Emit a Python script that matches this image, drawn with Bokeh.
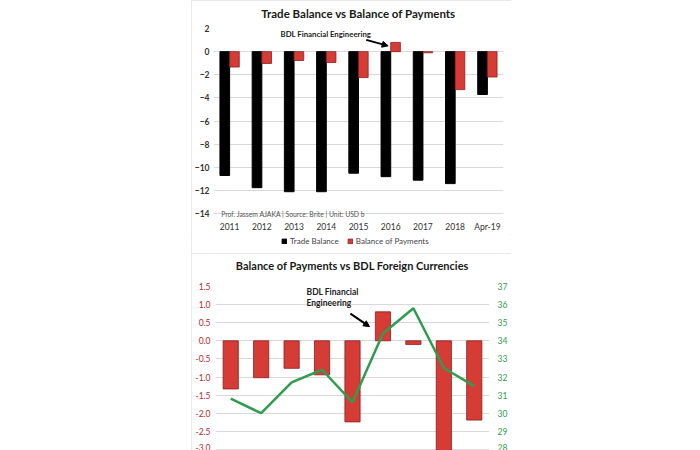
from bokeh.plotting import figure
from bokeh.models import (FactorRange, Range1d, LinearAxis, FixedTicker, NumeralTickFormatter,
                          Legend, LegendItem, Arrow, NormalHead, Spacer, ColumnDataSource, Label,
                          Title)
from bokeh.layouts import row, column
from bokeh.transform import dodge
from bokeh.embed import file_html
from bokeh.resources import INLINE

# ---------------- data ----------------
categories = ["2011", "2012", "2013", "2014", "2015", "2016", "2017", "2018", "Apr-19"]
trade_balance = [-10.7, -11.75, -12.1, -12.1, -10.5, -10.8, -11.1, -11.4, -3.7]
balance_of_payments = [-1.33, -1.02, -0.76, -0.94, -2.24, 0.80, -0.10, -3.28, -2.19]
bdl_foreign_currencies = [30.8, 30.0, 31.7, 32.4, 30.6, 34.4, 35.8, 32.5, 31.5]
top_ticks = [-14, -12, -10, -8, -6, -4, -2, 0, 2]
left_ticks = [-3.0, -2.5, -2.0, -1.5, -1.0, -0.5, 0.0, 0.5, 1.0, 1.5]
right_ticks = [28, 29, 30, 31, 32, 33, 34, 35, 36, 37]

FONT = "Lato"
GRID = "#d9d9d9"
RED = "#d63c36"
RED_EDGE = "#8e1c1c"
GREEN = "#2f9c50"

src = ColumnDataSource(dict(cat=categories, tb=trade_balance,
                            bop=balance_of_payments, fx=bdl_foreign_currencies))


def plain_axis(ax, size="8.5px", standoff=4):
    ax.axis_line_color = None
    ax.major_tick_line_color = None
    ax.minor_tick_line_color = None
    ax.major_tick_out = 0
    ax.major_tick_in = 0
    ax.minor_tick_out = 0
    ax.minor_tick_in = 0
    ax.major_label_text_font = FONT
    ax.major_label_text_font_size = size
    ax.major_label_standoff = standoff


# ---------------- top chart ----------------
p1 = figure(x_range=FactorRange(*categories), y_range=Range1d(-14.5, 2),
            width=320, height=234, output_backend="svg", toolbar_location=None,
            min_border_left=22, min_border_right=8, min_border_top=28, min_border_bottom=14,
            title=None)
p1.add_layout(Title(text=" ", text_font_size="4px", standoff=0), "above")
p1.add_layout(Title(text="Trade Balance vs Balance of Payments", text_font=FONT,
                    text_font_size="11.5px", text_font_style="bold", text_color="#1a1a1a",
                    align="center", offset=-12, standoff=4), "above")

p1.vbar(x=dodge("cat", -0.15, range=p1.x_range), top="tb", width=0.3, source=src,
        fill_color="black", line_color="black")
p1.vbar(x=dodge("cat", 0.15, range=p1.x_range), top="bop", width=0.3, source=src,
        fill_color=RED, line_color=RED_EDGE, line_width=0.8)

p1.outline_line_color = None
p1.xgrid.grid_line_color = None
p1.ygrid.grid_line_color = GRID
p1.yaxis.ticker = FixedTicker(ticks=top_ticks)
p1.ygrid.ticker = FixedTicker(ticks=top_ticks)
plain_axis(p1.xaxis[0], standoff=2)
plain_axis(p1.yaxis[0], standoff=4)
p1.xaxis.major_label_text_color = "#333333"
p1.yaxis.major_label_text_color = "#333333"
p1.yaxis.major_label_text_font_style = "bold"

p1.add_layout(Label(x=0.24, y=-14, text="Prof. Jassem AJAKA | Source: Brite | Unit: USD b",
                    text_font=FONT, text_font_size="6.8px", text_color="#555555",
                    text_baseline="middle", text_align="left"))
p1.add_layout(Label(x=2.08, y=1.55, text="BDL Financial Engineering",
                    text_font=FONT, text_font_size="7.8px", text_font_style="bold",
                    text_color="#222222", text_baseline="middle", text_align="left"))
p1.add_layout(Arrow(x_start=4.74, y_start=1.02, x_end=5.42, y_end=0.5, line_width=2,
                    line_color="black",
                    end=NormalHead(size=6, fill_color="black", line_color="black")))

# legend strip under the top chart (same series, legend only)
pl = figure(x_range=p1.x_range, y_range=Range1d(0, 1), width=320, height=19,
            output_backend="svg", toolbar_location=None, x_axis_location=None,
            y_axis_location=None, min_border_left=22, min_border_right=8,
            min_border_top=0, min_border_bottom=0)
pl.outline_line_color = None
pl.grid.visible = False
lg_tb = pl.vbar(x="cat", top="tb", width=0.3, source=src, fill_color="black",
                line_color="black", visible=False)
lg_bop = pl.vbar(x="cat", top="bop", width=0.3, source=src, fill_color=RED,
                 line_color=RED_EDGE, line_width=0.8, visible=False)
legend = Legend(items=[LegendItem(label="Trade Balance", renderers=[lg_tb]),
                       LegendItem(label="Balance of Payments", renderers=[lg_bop])],
                orientation="horizontal", location=(68, 7), border_line_color=None,
                background_fill_alpha=0, padding=0, margin=0, spacing=8,
                glyph_width=6, glyph_height=6, label_height=10, label_standoff=3,
                inactive_fill_alpha=0,
                label_text_font=FONT, label_text_font_size="8px", label_text_color="#444444")
pl.add_layout(legend)

top_block = column(p1, pl)
top_block.styles = {"outline": "1px solid #e2e2e2", "outline-offset": "-1px"}

# ---------------- bottom chart ----------------
p2 = figure(x_range=FactorRange(*categories), y_range=Range1d(-3.03, 1.5),
            width=320, height=197, output_backend="svg", toolbar_location=None,
            min_border_left=24, min_border_right=22, min_border_top=33, min_border_bottom=0,
            x_axis_location=None, title=None)
p2.add_layout(Title(text=" ", text_font_size="10px", standoff=0), "above")
p2.add_layout(Title(text="Balance of Payments vs BDL Foreign Currencies", text_font=FONT,
                    text_font_size="11px", text_font_style="bold", text_color="#1a1a1a",
                    align="center", offset=-2, standoff=4), "above")
p2.extra_y_ranges = {"fx": Range1d(27.94, 37)}

p2.vbar(x="cat", top="bop", width=0.5, source=src, fill_color=RED, line_color=RED_EDGE,
        line_width=0.8)
p2.line(x="cat", y="fx", source=src, y_range_name="fx", line_color=GREEN, line_width=2.5)

p2.outline_line_color = None
p2.xgrid.grid_line_color = None
p2.ygrid.grid_line_color = GRID
p2.yaxis.ticker = FixedTicker(ticks=left_ticks)
p2.ygrid.ticker = FixedTicker(ticks=left_ticks)
p2.yaxis.formatter = NumeralTickFormatter(format="0.0")
right_axis = LinearAxis(y_range_name="fx", ticker=FixedTicker(ticks=right_ticks))
p2.add_layout(right_axis, "right")
plain_axis(p2.yaxis[0], standoff=5)
plain_axis(right_axis, standoff=8)
p2.yaxis[0].major_label_text_color = "#b52a2a"
right_axis.major_label_text_color = GREEN

p2.add_layout(Label(x=2.99, y=1.36, text="BDL Financial", text_font=FONT,
                    text_font_size="8.5px", text_font_style="bold", text_color="#222222",
                    text_baseline="middle", text_align="left"))
p2.add_layout(Label(x=2.99, y=1.04, text="Engineering", text_font=FONT,
                    text_font_size="8.5px", text_font_style="bold", text_color="#222222",
                    text_baseline="middle", text_align="left"))
p2.add_layout(Arrow(x_start=4.43, y_start=0.75, x_end=5.06, y_end=0.39, line_width=2,
                    line_color="black",
                    end=NormalHead(size=6, fill_color="black", line_color="black")))
p2.styles = {"outline": "1px solid #e2e2e2", "outline-offset": "-1px"}

layout = column(row(Spacer(width=191), top_block), row(Spacer(width=191), p2))
open("out.html", "w").write(file_html(layout, INLINE))
